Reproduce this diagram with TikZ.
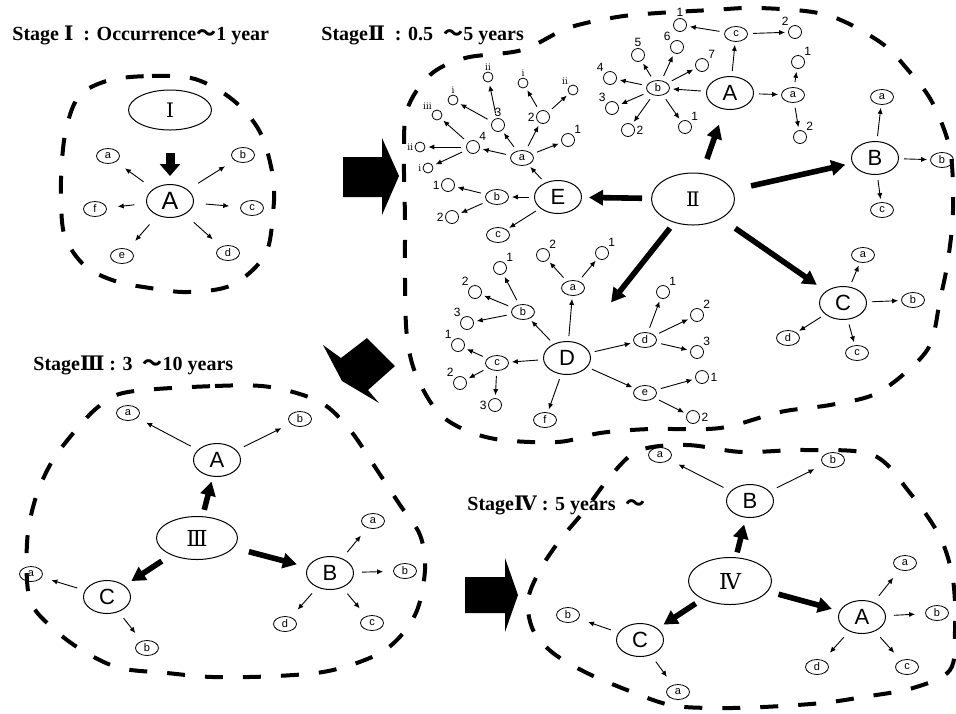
\documentclass[tikz,border=0pt]{standalone}
\usepackage{fontspec}
\setmainfont{Liberation Serif}
\setsansfont{Liberation Sans}
\newfontfamily\cjk{Noto Sans CJK JP}
\newfontfamily\romf{DejaVu Serif}
\usetikzlibrary{shapes.geometric,arrows.meta}

\tikzset{
  bigc/.style={ellipse, draw, line width=0.5pt, minimum width=23.5pt, minimum height=16.5pt, inner sep=0pt, font=\sffamily\fontsize{11}{11}\selectfont},
  rom/.style={ellipse, draw, line width=0.5pt, minimum width=41.5pt, minimum height=24pt, inner sep=0pt, font=\romf\fontsize{10}{10}\selectfont},
  sml/.style={ellipse, draw, line width=0.4pt, minimum width=11.5pt, minimum height=7.5pt, inner sep=0pt, font=\sffamily\fontsize{5.5}{5.5}\selectfont},
  dotc/.style={circle, draw, line width=0.4pt, minimum size=6.5pt, inner sep=0pt},
  dott/.style={dotc, minimum size=5pt},
  lbl/.style={font=\sffamily\fontsize{6}{6}\selectfont, inner sep=0.6pt},
  rlbl/.style={font=\romf\fontsize{4.5}{4.5}\selectfont, inner sep=0.5pt},
  arr/.style={-{Latex[length=3pt,width=2.6pt]}, line width=0.45pt, shorten <=2.5pt, shorten >=1.5pt},
  arrw/.style={arr, shorten <=4pt, shorten >=5pt},
  fatarr/.style={-{Triangle[length=7pt,width=7.5pt]}, line width=2.8pt},
  bound/.style={line width=2pt, dash pattern=on 9pt off 10pt},
  ttl/.style={anchor=base west, inner sep=0pt, font=\bfseries\fontsize{10}{10}\selectfont}
}

\begin{document}
\begin{tikzpicture}[x=0.5pt, y=-0.5pt]
  \useasboundingbox (0,0) rectangle (956,713);

  % boundaries
  \draw[bound] plot[smooth cycle, tension=0.55] coordinates {(110,80) (152,76) (195,79) (233,100) (260,132) (273,177) (273,213) (265,255) (232,285) (188,292) (150,288) (115,281) (85,266) (65,237) (61,200) (62,160) (67,125) (80,95)};
  \draw[bound] plot[smooth cycle, tension=0.55] coordinates {(430,75) (465,58) (522,50) (568,28) (617,17) (658,13) (712,10) (760,8) (827,15) (880,42) (908,70) (932,102) (950,150) (953,210) (948,260) (940,300) (930,345) (905,373) (873,395) (830,405) (780,412) (720,428) (650,429) (600,433) (557,442) (490,438) (443,417) (417,377) (407,337) (405,280) (405,220) (404,160) (407,110)};
  \draw[bound] plot[smooth cycle, tension=0.55] coordinates {(128,392) (215,386) (270,387) (320,402) (350,430) (377,470) (400,505) (420,535) (425,570) (415,615) (385,650) (333,670) (277,676) (213,677) (167,673) (120,668) (85,652) (55,630) (30,600) (27,543) (35,500) (50,465) (70,437) (98,407)};
  \draw[bound] plot[smooth cycle, tension=0.55] coordinates {(640,450) (687,445) (742,452) (805,450) (873,455) (910,493) (940,537) (953,580) (955,630) (950,670) (913,688) (863,697) (822,703) (763,707) (713,708) (670,705) (627,690) (587,673) (553,653) (533,630) (528,600) (540,570) (560,540) (585,510) (613,473)};

  % block arrows
  \fill (343,157) -- (382,157) -- (382,138) -- (399,176) -- (382,215) -- (382,197) -- (343,197) -- cycle;
  \fill (323,345) -- (341,358) -- (367,338) -- (395,366) -- (368,390) -- (379,403) -- (342,381) -- cycle;
  \fill (465,577) -- (505,577) -- (505,558) -- (518,595) -- (505,632) -- (505,613) -- (465,613) -- cycle;

  % titles
  \node[ttl] (t1) at (12,40) {Stage {\romf Ⅰ}\ \ : Occurrence{\cjk 〜}1 year};
  \node[ttl] (t2) at (321,40) {Stage{\romf Ⅱ}\ \ : 0.5 \ {\cjk 〜}5 years};
  \node[ttl] (t3) at (33,370) {Stage{\romf Ⅲ} : 3 \ {\cjk 〜}10 years};
  \node[ttl] (t4) at (467,510) {Stage{\romf Ⅳ} : 5 years \ {\cjk 〜}};

  % stage I
  \node[rom, minimum height=20pt] (oI) at (170,110) {Ⅰ};
  \node[bigc, font=\sffamily\fontsize{12.5}{12.5}\selectfont] (oA) at (170,201) {A};
  \node[sml] (oa) at (108,156) {a};
  \node[sml] (ob) at (243,155) {b};
  \node[sml] (oc) at (252,208) {c};
  \node[sml] (od) at (228,253) {d};
  \node[sml] (oe) at (122,256) {e};
  \node[sml] (of) at (95,209) {f};
  \draw[-{Triangle[length=6pt,width=10pt]}, line width=4.5pt, shorten <=11pt, shorten >=4pt] (oI) -- (oA);
  \foreach \n in {a,b,c,d,e,f}
    \draw[arr, shorten <=6pt, shorten >=5.5pt] (oA) -- (o\n);

  % stage II
  \node[rom, minimum height=26pt] (tII) at (693,199) {Ⅱ};
  \node[bigc] (tA) at (730,93) {A};
  \node[bigc] (tB) at (875,158) {B};
  \node[bigc] (tC) at (843,303) {C};
  \node[bigc] (tD) at (567,358) {D};
  \node[bigc] (tE) at (558,197) {E};
  \draw[fatarr, shorten <=7.5pt, shorten >=8pt] (tII) -- (tA);
  \draw[fatarr, shorten <=9.5pt, shorten >=3.5pt] (tII) -- (tB);
  \draw[fatarr, shorten <=8.5pt, shorten >=5.5pt] (tII) -- (tC);
  \draw[fatarr, shorten <=3.5pt, shorten >=26pt] (tII) -- (tD);
  \draw[fatarr, shorten <=4.5pt, shorten >=3.5pt] (tII) -- (tE);

  \node[sml] (tAa) at (793,95) {a};
  \node[sml] (tAb) at (658,88) {b};
  \node[sml] (tAc) at (736,34) {c};
  \node[dotc, label={[lbl]above:1}] (tAc1) at (680,25) {};
  \node[dotc, label={[lbl]above left:2}] (tAc2) at (795,32) {};
  \node[dotc, label={[lbl]above right:1}] (tAa1) at (798,62) {};
  \node[dotc, label={[lbl]above right:2}] (tAa2) at (800,137) {};
  \node[dotc, label={[lbl]above right:1}] (tAb1) at (685,127) {};
  \node[dotc, label={[lbl]right:2}] (tAb2) at (628,130) {};
  \node[dotc, label={[lbl]above left:3}] (tAb3) at (612,108) {};
  \node[dotc, label={[lbl]above left:4}] (tAb4) at (610,78) {};
  \node[dotc, label={[lbl]above:5}] (tAb5) at (638,55) {};
  \node[dotc, label={[lbl]above left:6}] (tAb6) at (677,47) {};
  \node[dotc, label={[lbl]above right:7}] (tAb7) at (702,65) {};
  \foreach \n in {a,b,c}
    \draw[arr] (tA) -- (tA\n);
  \foreach \n in {1,2} {
    \draw[arr] (tAc) -- (tAc\n);
    \draw[arr] (tAa) -- (tAa\n);
  }
  \foreach \n in {1,...,7}
    \draw[arr] (tAb) -- (tAb\n);

  \node[sml] (tBa) at (882,97) {a};
  \node[sml] (tBb) at (942,160) {b};
  \node[sml] (tBc) at (882,210) {c};
  \foreach \n in {a,b,c}
    \draw[arr] (tB) -- (tB\n);

  \node[sml] (tCa) at (863,255) {a};
  \node[sml] (tCb) at (913,300) {b};
  \node[sml] (tCc) at (857,353) {c};
  \node[sml] (tCd) at (788,338) {d};
  \foreach \n in {a,b,c,d}
    \draw[arr] (tC) -- (tC\n);

  \node[sml] (tEa) at (522,158) {a};
  \node[sml] (tEb) at (497,197) {b};
  \node[sml] (tEc) at (498,235) {c};
  \node[dotc, label={[lbl]left:1}] (tEb1) at (448,185) {};
  \node[dotc, label={[lbl]left:2}] (tEb2) at (452,217) {};
  \node[dotc, label={[lbl]above right:1}] (tEa1) at (568,140) {};
  \node[dotc, label={[lbl]left:2}] (tEa2) at (543,117) {};
  \node[dotc, label={[lbl]above:3}] (tEa3) at (498,125) {};
  \node[dotc, label={[lbl]above right:4}] (tEa4) at (473,147) {};
  \node[dott, label={[rlbl]above:ⅰ}] (tEa2i) at (523,83) {};
  \node[dott, label={[rlbl]above left:ⅱ}] (tEa2ii) at (573,90) {};
  \node[dott, label={[rlbl]above:ⅱ}] (tEa3ii) at (488,77) {};
  \node[dott, label={[rlbl]above:ⅰ}] (tEa3i) at (453,100) {};
  \node[dott, label={[rlbl]above left:ⅲ}] (tEa4iii) at (437,115) {};
  \node[dott, label={[rlbl]left:ⅱ}] (tEa4ii) at (420,147) {};
  \node[dott, label={[rlbl]left:ⅰ}] (tEa4i) at (428,168) {};
  \foreach \n in {a,b,c}
    \draw[arr] (tE) -- (tE\n);
  \foreach \n in {1,2}
    \draw[arr] (tEb) -- (tEb\n);
  \foreach \n in {1,...,4}
    \draw[arr] (tEa) -- (tEa\n);
  \foreach \n in {i,ii} {
    \draw[arr] (tEa2) -- (tEa2\n);
    \draw[arr] (tEa3) -- (tEa3\n);
  }
  \foreach \n in {i,ii,iii}
    \draw[arr] (tEa4) -- (tEa4\n);

  \node[sml] (tDa) at (573,288) {a};
  \node[sml] (tDb) at (523,312) {b};
  \node[sml] (tDc) at (497,363) {c};
  \node[sml] (tDd) at (645,340) {d};
  \node[sml] (tDe) at (645,393) {e};
  \node[sml] (tDf) at (545,420) {f};
  \node[dotc, label={[lbl]above right:1}] (tDa1) at (602,253) {};
  \node[dotc, label={[lbl]above right:2}] (tDa2) at (543,255) {};
  \node[dotc, label={[lbl]above right:1}] (tDb1) at (500,268) {};
  \node[dotc, label={[lbl]above left:2}] (tDb2) at (475,292) {};
  \node[dotc, label={[lbl]above left:3}] (tDb3) at (467,323) {};
  \node[dotc, label={[lbl]above left:1}] (tDc1) at (458,345) {};
  \node[dotc, label={[lbl]above left:2}] (tDc2) at (460,383) {};
  \node[dotc, label={[lbl]left:3}] (tDc3) at (495,405) {};
  \node[dotc, label={[lbl]above right:1}] (tDd1) at (663,292) {};
  \node[dotc, label={[lbl]above right:2}] (tDd2) at (697,315) {};
  \node[dotc, label={[lbl]above right:3}] (tDd3) at (697,352) {};
  \node[dotc, label={[lbl]right:1}] (tDe1) at (702,377) {};
  \node[dotc, label={[lbl]right:2}] (tDe2) at (693,417) {};
  \foreach \n in {a,...,f}
    \draw[arr] (tD) -- (tD\n);
  \foreach \n in {1,2} {
    \draw[arr] (tDa) -- (tDa\n);
    \draw[arr] (tDe) -- (tDe\n);
  }
  \foreach \n in {1,2,3} {
    \draw[arr] (tDb) -- (tDb\n);
    \draw[arr] (tDc) -- (tDc\n);
    \draw[arr] (tDd) -- (tDd\n);
  }

  % stage III
  \node[rom, minimum width=40.5pt, minimum height=21.5pt, font=\romf\fontsize{11}{11}\selectfont] (hIII) at (197,538) {Ⅲ};
  \node[bigc] (hA) at (217,460) {A};
  \node[bigc] (hB) at (330,573) {B};
  \node[bigc] (hC) at (107,597) {C};
  \draw[fatarr, shorten <=3.3pt, shorten >=2.5pt] (hIII) -- (hA);
  \draw[fatarr, shorten <=7.8pt, shorten >=5.5pt] (hIII) -- (hB);
  \draw[fatarr, shorten <=5.5pt, shorten >=4pt] (hIII) -- (hC);
  \node[sml] (hAa) at (128,413) {a};
  \node[sml] (hAb) at (300,419) {b};
  \node[sml] (hBa) at (373,521) {a};
  \node[sml] (hBb) at (405,571) {b};
  \node[sml] (hBc) at (372,623) {c};
  \node[sml] (hBd) at (285,624) {d};
  \node[sml] (hCa) at (31,574) {a};
  \node[sml] (hCb) at (147,648) {b};
  \foreach \n in {a,b} {
    \draw[arrw] (hA) -- (hA\n);
    \draw[arrw] (hC) -- (hC\n);
  }
  \foreach \n in {a,...,d}
    \draw[arrw] (hB) -- (hB\n);

  % stage IV
  \node[rom, minimum width=41.5pt, minimum height=23.5pt, font=\romf\fontsize{11}{11}\selectfont] (fIV) at (730,581) {Ⅳ};
  \node[bigc] (fA) at (862,617) {A};
  \node[bigc] (fB) at (750,501) {B};
  \node[bigc] (fC) at (640,640) {C};
  \draw[fatarr, shorten <=2.5pt, shorten >=3.5pt] (fIV) -- (fB);
  \draw[fatarr, shorten <=5.5pt, shorten >=4pt] (fIV) -- (fA);
  \draw[fatarr, shorten <=4pt, shorten >=3.5pt] (fIV) -- (fC);
  \node[sml] (fBa) at (660,455) {a};
  \node[sml] (fBb) at (833,460) {b};
  \node[sml] (fCb) at (568,615) {b};
  \node[sml] (fCa) at (678,692) {a};
  \node[sml] (fAa) at (905,563) {a};
  \node[sml] (fAb) at (937,613) {b};
  \node[sml] (fAc) at (907,667) {c};
  \node[sml] (fAd) at (817,667) {d};
  \foreach \n in {a,b} {
    \draw[arrw] (fB) -- (fB\n);
    \draw[arrw] (fC) -- (fC\n);
  }
  \foreach \n in {a,...,d}
    \draw[arrw] (fA) -- (fA\n);
\end{tikzpicture}
\end{document}
